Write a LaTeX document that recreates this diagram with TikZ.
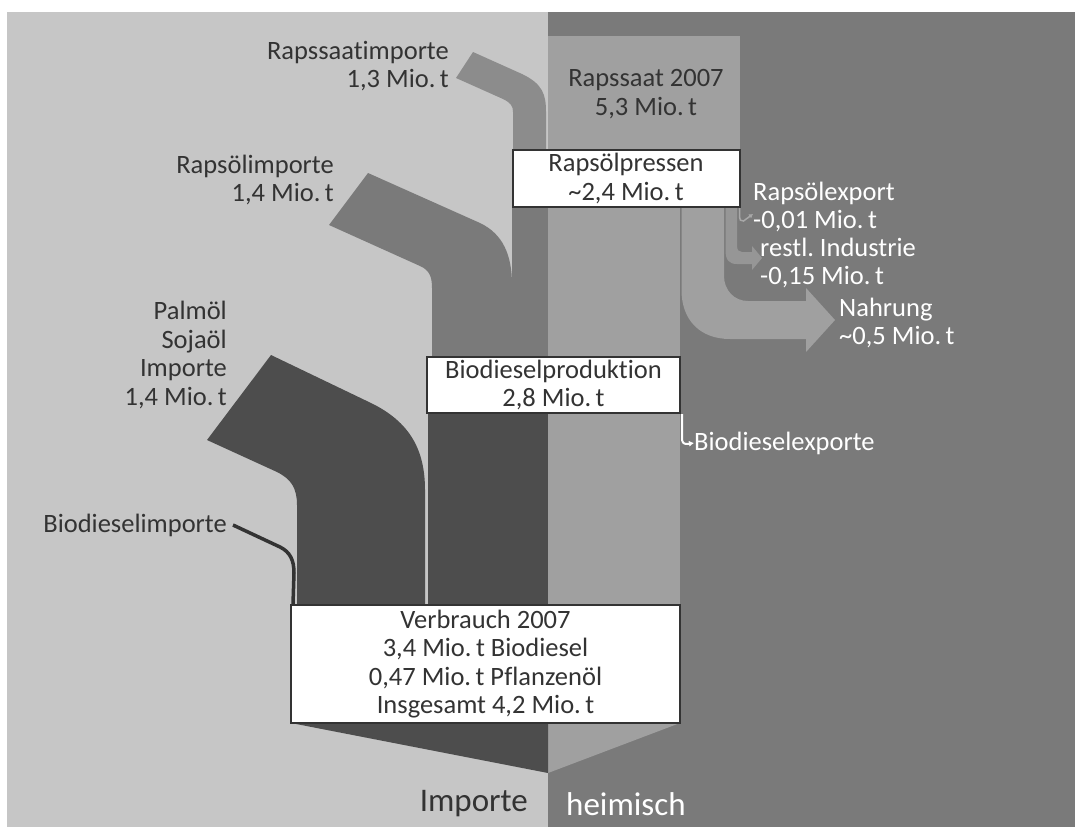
\documentclass[tikz,border=0pt]{standalone}
\usepackage{fontspec}
\setmainfont{Carlito}[Ligatures=NoCommon]
\usetikzlibrary{arrows.meta}
\definecolor{PanelLight}{HTML}{C6C6C6}
\definecolor{PanelDark}{HTML}{7A7A7A}
\definecolor{SeedGray}{HTML}{A0A0A0}
\definecolor{SeedImp}{HTML}{8C8C8C}
\definecolor{OilGray}{HTML}{7A7A7A}
\definecolor{FuelGray}{HTML}{4D4D4D}
\definecolor{TradeGray}{HTML}{969696}
\definecolor{ExpGray}{HTML}{A8A8A8}
\definecolor{Ink}{HTML}{333333}
\frenchspacing

\begin{document}
\begin{tikzpicture}[x=1pt,y=-1pt,>=Latex,font=\fontsize{26.5}{28.5}\selectfont]
  \tikzset{box/.style={draw=Ink,line width=2pt,fill=white,text=Ink,align=center,inner sep=0pt},
           darklabel/.style={text=Ink,align=right,inner sep=0pt,anchor=east},
           lightlabel/.style={text=white,align=left,inner sep=0pt,anchor=west},
           biglabel/.style={inner sep=0pt,font=\fontsize{33}{36}\selectfont}}
  \useasboundingbox (0,0) rectangle (1075,827);
  % panels
  \fill[white] (0,0) rectangle (1075,827);
  \fill[PanelLight] (7,12) rectangle (548,827);
  \fill[PanelDark] (548,12) rectangle (1075,827);
  % domestic seed column
  \fill[SeedGray] (548,36) rectangle (740,150);
  \fill[SeedGray] (548,207) rectangle (680,723);
  \fill[SeedGray] (548,723) -- (680,723) -- (548,773) -- cycle;
  % seed imports
  \fill[SeedImp] (456,78) -- (473,52) -- (522,74) .. controls (543,84) and (546,95) .. (546,112)
    -- (546,150) -- (513,150) -- (513,112) .. controls (513,106) and (511,103) .. (503,99) -- cycle;
  % rape oil imports and pressed oil
  \fill[OilGray] (329,225) -- (368,173) -- (480,223) .. controls (503,234) and (512,255) .. (512,285)
    -- (512,357) -- (432,357) -- (432,288) .. controls (432,276) and (429,270) .. (420,266) -- cycle;
  \fill[OilGray] (512,207) rectangle (548,357);
  % palm and soy oil imports
  \fill[FuelGray] (207,440) -- (271,355) -- (371,403) .. controls (410,422) and (425,450) .. (425,490)
    -- (425,605) -- (297,605) -- (297,505) .. controls (297,488) and (291,479) .. (277,472) -- cycle;
  \fill[FuelGray] (428,413) rectangle (548,605);
  \fill[FuelGray] (291,723) -- (548,723) -- (548,773) -- cycle;
  % food
  \fill[SeedGray] (681.5,207) -- (681.5,290) .. controls (681.5,320) and (700,339) .. (730,339)
    -- (806,339) -- (806,352) -- (835,320) -- (806,288) -- (806,301) -- (748,301)
    .. controls (734,301) and (724,290) .. (724,276) -- (724,207) -- cycle;
  % other industry
  \fill[TradeGray] (725.5,207) -- (725.5,250) .. controls (725.5,260) and (729,264) .. (737,264)
    -- (752,264) -- (752,270) -- (762,258) -- (752,246) -- (752,252) -- (742,252)
    .. controls (739,252) and (737,250) .. (737,246) -- (737,207) -- cycle;

  % boxes
  \node[box,minimum width=227pt,minimum height=57pt] (press) at (626,178.5) {Rapsölpressen\\\textasciitilde 2,4 Mio.\,t};
  \node[box,minimum width=253pt,minimum height=56pt] (bio) at (553.5,385) {Biodieselproduktion\\2,8 Mio.\,t};
  \node[box,minimum width=389pt,minimum height=118pt] (verb) at (485.5,664) {Verbrauch 2007\\3,4 Mio.\,t Biodiesel\\0,47 Mio.\,t Pflanzenöl\\Insgesamt 4,2 Mio.\,t};
  \node[text=Ink,align=center,inner sep=0pt] (seed) at (646,94) {Rapssaat 2007\\5,3 Mio.\,t};

  % labels
  \node[darklabel] (seedimp) at (449,66) {Rapssaatimporte\\1,3 Mio.\,t};
  \node[darklabel] (oilimp) at (334,180) {Rapsölimporte\\1,4 Mio.\,t};
  \node[darklabel] (palmimp) at (227,355) {Palmöl\\Sojaöl\\Importe\\1,4 Mio.\,t};
  \node[darklabel] (bioimp) at (227,525) {Biodieselimporte};
  \node[lightlabel] (oilexp) at (753,207) {Rapsölexport\\-0,01 Mio.\,t};
  \node[lightlabel] (indu) at (760,263) {restl. Industrie\\-0,15 Mio.\,t};
  \node[lightlabel] (food) at (839,323) {Nahrung\\\textasciitilde 0,5 Mio.\,t};
  \node[lightlabel] (bioexp) at (694,443) {Biodieselexporte};
  \node[biglabel,text=Ink,anchor=east] (imp) at (528,804) {Importe};
  \node[biglabel,text=white,anchor=west] (home) at (566,804) {heimisch};

  % thin connectors
  \draw[Ink,line width=3.5pt] ([xshift=6pt]bioimp.east) -- (280,547) .. controls (290,552) and (294,560) .. (294,573) -- ([xshift=3pt]verb.north west);
  \draw[white,line width=2pt,-{Latex[length=5pt,width=6pt]}] ([xshift=1pt]bio.south east) -- ++(0,24) .. controls ++(0,4) and ++(-4,0) .. ++(5,6) -- (bioexp.west);
  \draw[ExpGray,line width=1.5pt,-{Latex[length=4pt,width=5pt]}] ([xshift=-1pt]press.south east) -- ++(0,9) .. controls ++(0,3) and ++(-3,0) .. ++(4,4) -- ([yshift=-7pt]oilexp.west);
\end{tikzpicture}
\end{document}
